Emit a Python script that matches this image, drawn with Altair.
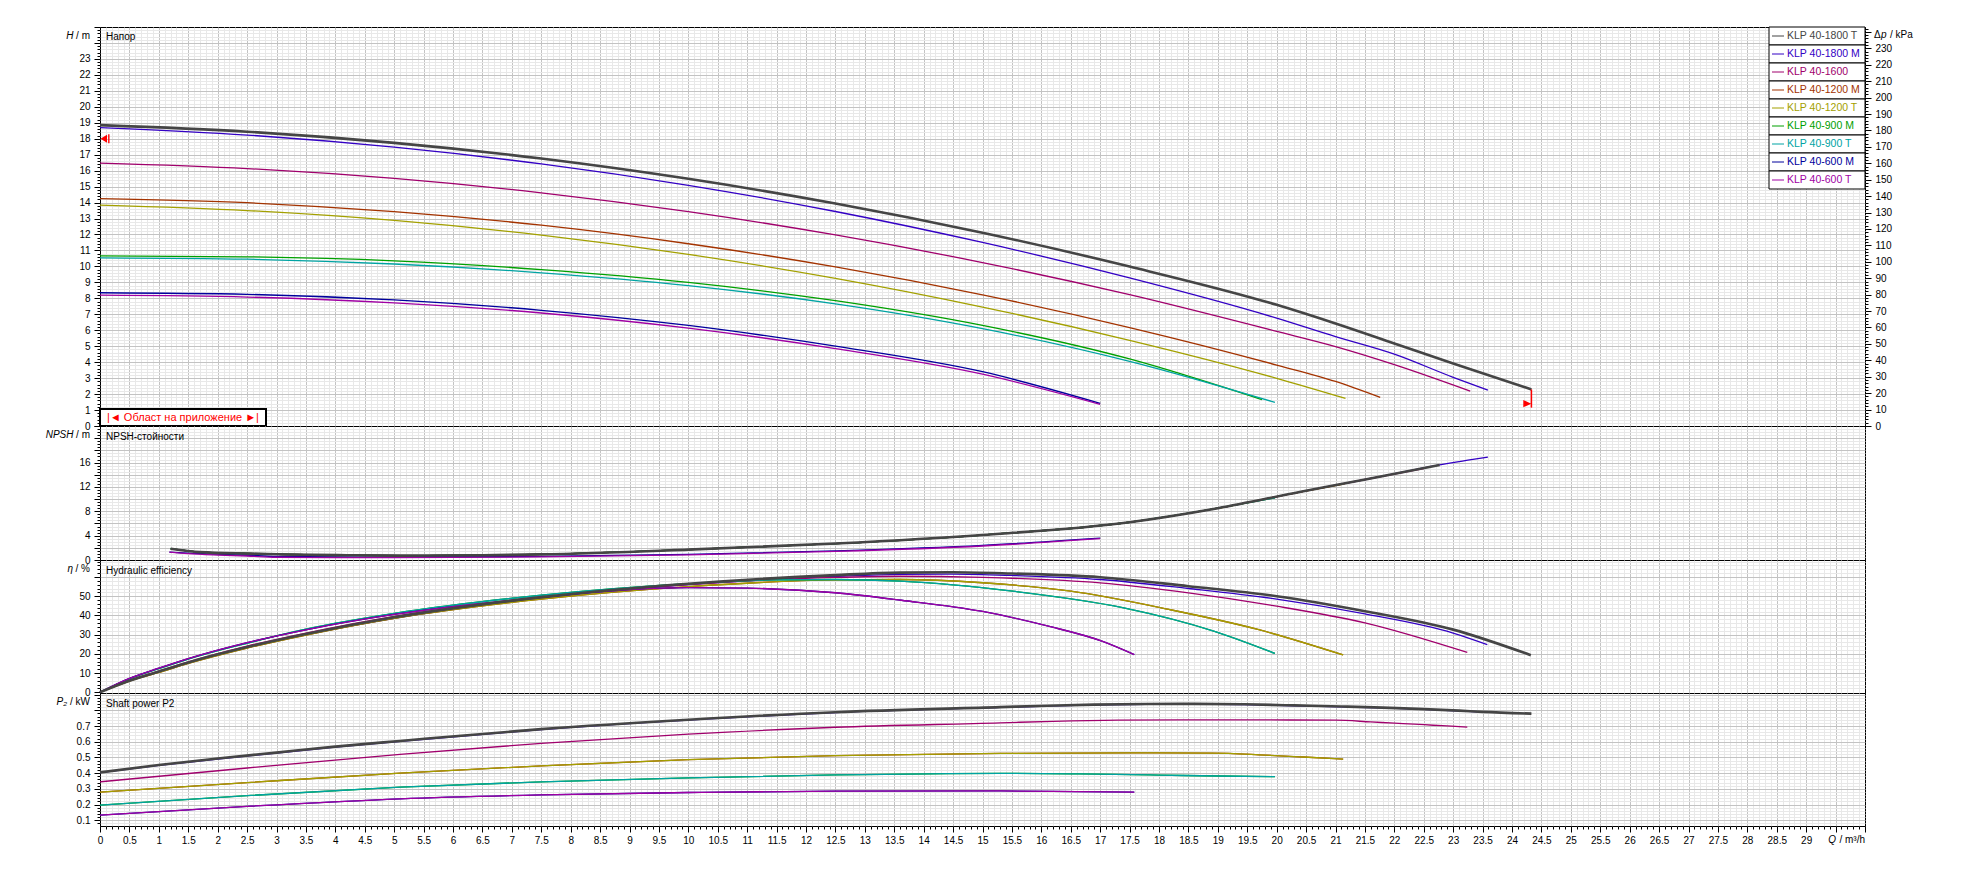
import altair as alt
import pandas as pd

FONT = "Liberation Sans"
MAJ = "#c3c3c3"
MIN = "#e8e8e8"

PUMPS = ["KLP 40-1800 T", "KLP 40-1800 M", "KLP 40-1600", "KLP 40-1200 M", "KLP 40-1200 T",
         "KLP 40-900 M", "KLP 40-900 T", "KLP 40-600 M", "KLP 40-600 T"]
COLORS = ["#454545", "#3300c4", "#a0006c", "#a33300", "#a3a000", "#00a000", "#00a3a3", "#00009c", "#a000a3"]

# ---------------- Head H / m ----------------
Q_H_1800T = [0, 2.5, 5, 7.5, 10, 12.5, 15, 17.5, 20, 21, 22, 23, 24.33]
H_1800T = [18.85, 18.44, 17.74, 16.76, 15.49, 13.94, 12.11, 9.99, 7.59, 6.42, 5.17, 3.92, 2.29]
Q_H_1800M = [0, 2.5, 5, 7.5, 10, 12.5, 15, 17.5, 20, 21, 22, 23, 23.59]
H_1800M = [18.70, 18.23, 17.47, 16.42, 15.08, 13.44, 11.50, 9.28, 6.76, 5.6, 4.5, 3.05, 2.25]
Q_H_1600 = [0, 2.5, 5, 7.5, 10, 12.5, 15, 17.5, 20, 21, 22, 23.29]
H_1600 = [16.47, 16.13, 15.51, 14.61, 13.43, 11.97, 10.24, 8.23, 5.93, 4.98, 3.85, 2.19]
Q_H_1200M = [0, 2.5, 5, 7.5, 10, 12.5, 15, 17.5, 20, 21, 21.76]
H_1200M = [14.25, 13.99, 13.43, 12.58, 11.42, 9.97, 8.22, 6.17, 3.82, 2.79, 1.79]
Q_H_1200T = [0, 2.5, 5, 7.5, 10, 12.5, 15, 17.5, 20, 21.17]
H_1200T = [13.84, 13.50, 12.88, 11.96, 10.75, 9.25, 7.45, 5.37, 2.99, 1.73]
Q_H_900M = [0, 2.5, 5, 7.5, 10, 12.5, 15, 17.5, 19.75]
H_900M = [10.66, 10.6, 10.35, 9.8, 9.0, 7.85, 6.3, 4.2, 1.65]
Q_H_900T = [0, 2.5, 5, 7.5, 10, 12.5, 15, 17.5, 19.97]
H_900T = [10.54, 10.45, 10.15, 9.6, 8.8, 7.65, 6.1, 4.05, 1.48]
Q_H_600M = [0, 2.5, 5, 7.5, 10, 12.5, 15, 17.0]
H_600M = [8.35, 8.25, 7.9, 7.25, 6.3, 5.0, 3.4, 1.42]
Q_H_600T = [0, 2.5, 5, 7.5, 10, 12.5, 15, 17.0]
H_600T = [8.2, 8.08, 7.72, 7.08, 6.13, 4.85, 3.25, 1.36]

# ---------------- NPSH / m ----------------
Q_N_BASE = [1.2, 1.7, 2.6, 3.2, 4.2, 5.1, 6.5, 7.5, 10, 12.5, 15, 17.5, 19]
N_BASE = [1.86, 1.3, 1.05, 0.9, 0.78, 0.72, 0.78, 0.92, 1.7, 2.7, 4.1, 6.2, 8.5]
Q_N_END_1800T = [20.41, 21.55, 22.77]
N_END_1800T = [11.2, 13.3, 15.6]
Q_N_END_1800M = [20.41, 21.55, 22.77, 23.25, 23.59]
N_END_1800M = [11.2, 13.3, 15.6, 16.4, 16.9]
Q_N_END_1600 = [20.41, 21.55, 22.5]
N_END_1600 = [11.2, 13.3, 15.0]
Q_N_END_1200 = [20.41, 21.15]
N_END_1200 = [11.2, 12.5]
Q_N_END_900 = [19.97]
N_END_900 = [10.2]
Q_N_600 = [1.18, 1.5, 2, 2.5, 3, 5, 7.5, 10, 12.5, 15, 17.0]
N_600T = [1.3, 1.05, 0.82, 0.66, 0.45, 0.38, 0.5, 0.85, 1.4, 2.3, 3.5]
N_600M = [1.3, 1.12, 0.95, 0.78, 0.58, 0.45, 0.58, 0.93, 1.5, 2.4, 3.6]

# ---------------- Hydraulic efficiency / % ----------------
Q_E_1800T = [0, 0.5, 1, 1.5, 2.5, 3.5, 5, 7.5, 10, 12.5, 13.6, 14.5, 15.5, 17, 18.5, 20, 21.5, 23, 24.32]
E_1800T = [0, 6, 10.8, 15.5, 23.5, 30.3, 39, 49.5, 56.5, 61, 62.3, 62.5, 61.8, 59.9, 55.2, 50.0, 42.2, 32.6, 19.3]
Q_E_1800M = [0, 0.5, 1, 1.5, 2.5, 3.5, 5, 7.5, 10, 12.5, 13.6, 14.5, 15.5, 17, 18.5, 20, 21.5, 23, 23.58]
E_1800M = [0, 6, 10.6, 15.3, 23.2, 30, 38.5, 49, 56, 60.3, 61.4, 61.5, 60.8, 58.7, 54, 48.5, 40.8, 30.8, 24.8]
Q_E_1600 = [0, 0.5, 1, 1.5, 2.5, 3.5, 5, 7.5, 10, 12.5, 13.6, 15, 17, 18.5, 20, 21.5, 23.24]
E_1600 = [0, 6.3, 11, 15.8, 24, 30.8, 39.5, 49.5, 56, 59.8, 60.4, 59.8, 56.9, 51.7, 44.8, 36.1, 20.7]
Q_E_1200 = [0, 0.5, 1, 1.5, 2.5, 3.5, 5, 7.5, 10, 12.5, 13.6, 15, 16.5, 18.17, 19.68, 21.13]
E_1200 = [0, 5.8, 10.3, 15, 23, 29.8, 38.5, 48.5, 55, 58.5, 58.7, 57, 52.6, 43.1, 32.7, 19.4]
Q_E_900 = [0, 0.5, 1, 1.5, 2.5, 3.5, 5, 7.5, 10, 11.5, 12.5, 13.6, 15.51, 17.4, 18.93, 19.97]
E_900 = [0, 7, 12.3, 17.3, 25.5, 32.8, 41, 50.5, 56.5, 58.5, 58.7, 57.8, 52.6, 43.9, 31.8, 20.2]
Q_E_600 = [0, 0.5, 1, 1.5, 2.5, 3.5, 5, 7.5, 9, 10, 11, 12.5, 13.62, 14.98, 16.12, 17.03, 17.58]
E_600 = [0, 7.2, 12.5, 17.5, 25.8, 32.5, 40.5, 49.5, 53.5, 54.5, 54.2, 51.8, 47.9, 42.2, 34.4, 26.6, 19.6]

# ---------------- Shaft power P2 / kW ----------------
Q_P_1800T = [0, 1, 2, 3, 4, 5.1, 7.5, 10, 12.5, 15.3, 16.1, 16.9, 17.8, 18.6, 19.45, 20.3, 21.1, 21.8, 22.4, 23.1, 23.5, 24.33]
P_1800T = [0.405, 0.452, 0.493, 0.531, 0.569, 0.605, 0.68, 0.74, 0.788, 0.82, 0.829, 0.836, 0.840, 0.841, 0.838,
           0.831, 0.824, 0.817, 0.809, 0.798, 0.790, 0.779]
Q_P_1800M = [0, 1, 2, 3, 4, 5.1, 7.5, 10, 12.5, 15.3, 16.1, 16.9, 17.8, 18.6, 19.45, 20.3, 21.1, 21.8, 22.4, 23.1, 23.58]
P_1800M = [0.403, 0.449, 0.49, 0.528, 0.566, 0.602, 0.677, 0.737, 0.786, 0.818, 0.827, 0.834, 0.838, 0.839, 0.836,
           0.829, 0.822, 0.815, 0.807, 0.796, 0.788]
Q_P_1600 = [0, 2.5, 5.1, 7.5, 10, 12.5, 15.3, 16.2, 17.3, 19, 21.0, 21.6, 22.0, 22.34, 22.66, 22.97, 23.24]
P_1600 = [0.345, 0.433, 0.52, 0.59, 0.648, 0.692, 0.72, 0.73, 0.737, 0.739, 0.737, 0.726, 0.718, 0.712, 0.705, 0.699, 0.693]
Q_P_1200 = [0, 2.5, 5.1, 7.5, 10, 12.5, 15.3, 17.5, 18.9, 19.7, 20.45, 21.13]
P_1200 = [0.28, 0.34, 0.40, 0.447, 0.486, 0.512, 0.526, 0.529, 0.527, 0.517, 0.503, 0.489]
Q_P_900 = [0, 2.5, 5.1, 7.5, 10, 12.5, 15.3, 16.65, 18.0, 19.0, 19.97]
P_900 = [0.197, 0.257, 0.311, 0.345, 0.37, 0.389, 0.399, 0.395, 0.388, 0.382, 0.378]
Q_P_600 = [0, 2.5, 5.1, 7.5, 10, 12.5, 15.3, 16.6, 17.58]
P_600 = [0.133, 0.189, 0.237, 0.262, 0.277, 0.286, 0.287, 0.283, 0.279]

# ---------------- operating range markers ----------------
OP_MIN_H = [18.0]
OP_END_Q = [24.33]
OP_END_H = [2.29]
OP_END_LOW = [1.15]
OP_TRI_Q = [24.26]
OP_TRI_H = [1.4]

# ---------------- layout ----------------
W = 1765
H1, H2, H3, H4 = 399, 134, 133, 133
COLOR = dict(zip(PUMPS, COLORS))
DRAW_ORDER = PUMPS[1:] + PUMPS[:1]


def long_df(series):
    rows = []
    for name, qs, vs in series:
        for q, v in zip(qs, vs):
            rows.append({"pump": name, "Q": q, "V": v})
    return pd.DataFrame(rows)


def cond(test, a, b):
    return {"condition": {"test": test, "value": a}, "value": b}


X_VALS = [round(i * 0.1, 1) for i in range(301)]
X_MAJOR = "abs(datum.value * 2 - round(datum.value * 2)) < 0.001"
X_EDGE = "datum.value < 0.05 || datum.value > 29.95"


def x_axis(bottom):
    kw = dict(values=X_VALS, title=None, domain=False, grid=True,
              gridColor=cond(X_MAJOR, MAJ, MIN), gridOpacity=cond(X_EDGE, 0, 1), gridWidth=1,
              labelFlush=False, labelOverlap=False)
    if bottom:
        kw.update(ticks=True, tickColor="black", tickWidth=1, tickSize=cond(X_MAJOR, 6, 3),
                  labels=True,
                  labelExpr="(" + X_MAJOR + ") && datum.value < 29.4 ? format(datum.value, '.1~f') : ''",
                  labelFont=FONT, labelFontSize=10, labelColor="black", labelPadding=3)
    else:
        kw.update(ticks=False, labels=False)
    return alt.Axis(**kw)


def y_axis(vals, major, label_expr, edge):
    return alt.Axis(values=vals, orient="left", title=None, domain=False, grid=True,
                    gridColor=cond(major, MAJ, MIN), gridOpacity=cond(edge, 0, 1), gridWidth=1,
                    ticks=True, tickColor="black", tickWidth=1, tickSize=cond(major, 6, 3),
                    labelExpr=label_expr, labelFont=FONT, labelFontSize=10, labelColor="black",
                    labelPadding=4, labelOverlap=False, labelFlush=False)


def curves(df, xs, xa, ys, ya):
    out = []
    names = set(df["pump"])
    for name in DRAW_ORDER:
        if name not in names:
            continue
        out.append(
            alt.Chart(df).transform_filter(alt.datum.pump == name).mark_line(
                color=COLOR[name], strokeWidth=2.6 if name == PUMPS[0] else 1.3, interpolate="monotone"
            ).encode(x=alt.X("Q:Q", scale=xs, axis=xa), y=alt.Y("V:Q", scale=ys, axis=ya))
        )
    return out


def txt(s, x, y, align="left", color="black", size=10, style="normal"):
    return alt.Chart(pd.DataFrame({"t": [s]})).mark_text(
        align=align, baseline="middle", font=FONT, fontSize=size, color=color, fontStyle=style
    ).encode(x=alt.value(x), y=alt.value(y), text="t:N")


def axis_title(symbol, unit, y, gap):
    # italic quantity symbol followed by an upright " / unit", right-aligned next to the axis
    return [txt(unit, -10, y, align="right"), txt(symbol, -10 - gap, y, align="right", style="italic")]


xs = alt.Scale(domain=[0, 30], nice=False, zero=False)
xa_top = x_axis(False)
xa_bot = x_axis(True)

# ---------- panel 1: head ----------
df_H = long_df([
    (PUMPS[0], Q_H_1800T, H_1800T), (PUMPS[1], Q_H_1800M, H_1800M), (PUMPS[2], Q_H_1600, H_1600),
    (PUMPS[3], Q_H_1200M, H_1200M), (PUMPS[4], Q_H_1200T, H_1200T), (PUMPS[5], Q_H_900M, H_900M),
    (PUMPS[6], Q_H_900T, H_900T), (PUMPS[7], Q_H_600M, H_600M), (PUMPS[8], Q_H_600T, H_600T),
])
ys_H = alt.Scale(domain=[0, 25], nice=False, zero=False)
ya_H = y_axis([round(i * 0.2, 1) for i in range(126)],
              "abs(datum.value - round(datum.value)) < 0.001",
              "abs(datum.value - round(datum.value)) < 0.001 && datum.value <= 23.01 ? format(datum.value, 'd') : ''",
              "datum.value < 0.01 || datum.value > 24.99")

mark_left = alt.Chart(pd.DataFrame({"V": OP_MIN_H})).mark_point(
    shape="M-1,0L0.45,-0.9L0.45,0.9Z M0.7,-1L1,-1L1,1L0.7,1Z", filled=True, color="red", size=81, opacity=1,
    strokeWidth=0
).encode(x=alt.value(5), y=alt.Y("V:Q", scale=ys_H, axis=ya_H))
mark_end_rule = alt.Chart(pd.DataFrame({"Q": OP_END_Q, "V": OP_END_H, "V2": OP_END_LOW})).mark_rule(
    color="red", strokeWidth=1.5
).encode(x=alt.X("Q:Q", scale=xs, axis=xa_top), y=alt.Y("V:Q", scale=ys_H, axis=ya_H), y2="V2:Q")
mark_end_tri = alt.Chart(pd.DataFrame({"Q": OP_TRI_Q, "V": OP_TRI_H})).mark_point(
    shape="M1,0L-1,-0.9L-1,0.9Z", filled=True, color="red", size=64, opacity=1, strokeWidth=0
).encode(x=alt.X("Q:Q", scale=xs, axis=xa_top), y=alt.Y("V:Q", scale=ys_H, axis=ya_H))

area_box = alt.Chart(pd.DataFrame({"a": [0]})).mark_rect(fill="white", stroke="black", strokeWidth=2).encode(
    x=alt.value(0), x2=alt.value(166), y=alt.value(382), y2=alt.value(399))
area_txt = txt("|\u25c4 Област на приложение \u25ba|", 83, 391, align="center", color="red", size=11)

left_pad = alt.Chart(pd.DataFrame({"a": [0]})).mark_rule(color="white", strokeWidth=1).encode(
    x=alt.value(-90.5), y=alt.value(0), y2=alt.value(2))

h_inner = alt.layer(
    *curves(df_H, xs, xa_top, ys_H, ya_H),
    mark_left, mark_end_rule, mark_end_tri, area_box, area_txt,
    txt("Напор", 6, 10), *axis_title("H", "/ m", 9, 16.5),
    txt("\u0394", W + 9, 8), txt("p", W + 16, 8, style="italic"), txt("/ kPa", W + 25, 8),
    left_pad,
)

dp_axis = alt.Axis(values=list(range(0, 243, 2)), orient="right", title=None, domain=False, grid=False,
                   ticks=True, tickColor="black", tickWidth=1,
                   tickSize=cond("datum.value % 10 == 0", 6, 3),
                   labelExpr="datum.value % 10 == 0 && datum.value <= 230 ? format(datum.value, 'd') : ''",
                   labelFont=FONT, labelFontSize=10, labelColor="black", labelPadding=4,
                   labelOverlap=False, labelFlush=False)
dp_layer = alt.Chart(pd.DataFrame({"dp": [0, 243]})).mark_point(opacity=0).encode(
    y=alt.Y("dp:Q", scale=alt.Scale(domain=[0, 243], nice=False, zero=False), axis=dp_axis))

leg_df = pd.DataFrame({"pump": PUMPS})
leg_y = alt.Y("pump:N", scale=alt.Scale(type="band", domain=PUMPS, range=[0, 162], paddingInner=0, paddingOuter=0),
              axis=None)
leg_color = alt.Color("pump:N", scale=alt.Scale(domain=PUMPS, range=COLORS), legend=None)
legend = alt.layer(
    alt.Chart(leg_df).mark_rect(fill="white", stroke="black", strokeWidth=1).encode(
        x=alt.value(1669), x2=alt.value(W), y=leg_y),
    alt.Chart(leg_df).mark_rule(strokeWidth=1).encode(
        x=alt.value(1672), x2=alt.value(1684), y=leg_y, color=leg_color),
    alt.Chart(leg_df).mark_text(align="left", baseline="middle", font=FONT, fontSize=10.5).encode(
        x=alt.value(1687), y=leg_y, text="pump:N", color=leg_color),
)

h_panel = alt.layer(h_inner, dp_layer, legend).resolve_scale(y="independent").properties(width=W, height=H1)

# ---------- panel 2: NPSH ----------
df_N = long_df([
    (PUMPS[0], Q_N_BASE + Q_N_END_1800T, N_BASE + N_END_1800T),
    (PUMPS[1], Q_N_BASE + Q_N_END_1800M, N_BASE + N_END_1800M),
    (PUMPS[2], Q_N_BASE + Q_N_END_1600, N_BASE + N_END_1600),
    (PUMPS[3], Q_N_BASE + Q_N_END_1200, N_BASE + N_END_1200),
    (PUMPS[4], Q_N_BASE + Q_N_END_1200, N_BASE + N_END_1200),
    (PUMPS[5], Q_N_BASE + Q_N_END_900, N_BASE + N_END_900),
    (PUMPS[6], Q_N_BASE + Q_N_END_900, N_BASE + N_END_900),
    (PUMPS[7], Q_N_600, N_600M),
    (PUMPS[8], Q_N_600, N_600T),
])
ys_N = alt.Scale(domain=[0, 22], nice=False, zero=False)
ya_N = y_axis([i * 0.5 for i in range(45)],
              "abs(datum.value / 2 - round(datum.value / 2)) < 0.001",
              "abs(datum.value / 4 - round(datum.value / 4)) < 0.001 && datum.value <= 16.01 ? format(datum.value, 'd') : ''",
              "datum.value < 0.01 || datum.value > 21.99")
n_panel = alt.layer(
    *curves(df_N, xs, xa_top, ys_N, ya_N),
    txt("NPSH-стойности", 6, 11), *axis_title("NPSH", "/ m", 9, 16.5),
).properties(width=W, height=H2)

# ---------- panel 3: efficiency ----------
df_E = long_df([
    (PUMPS[0], Q_E_1800T, E_1800T), (PUMPS[1], Q_E_1800M, E_1800M), (PUMPS[2], Q_E_1600, E_1600),
    (PUMPS[3], Q_E_1200, E_1200), (PUMPS[4], Q_E_1200, E_1200), (PUMPS[5], Q_E_900, E_900),
    (PUMPS[6], Q_E_900, E_900), (PUMPS[7], Q_E_600, E_600), (PUMPS[8], Q_E_600, E_600),
])
ys_E = alt.Scale(domain=[-0.4, 68.85], nice=False, zero=False)
ya_E = y_axis(list(range(0, 69, 2)),
              "datum.value % 10 == 0",
              "datum.value % 10 == 0 && datum.value <= 50 ? format(datum.value, 'd') : ''",
              "datum.value < 0.5")
e_panel = alt.layer(
    *curves(df_E, xs, xa_top, ys_E, ya_E),
    txt("Hydraulic efficiency", 6, 11), *axis_title("\u03b7", "/ %", 9, 17),
).properties(width=W, height=H3)

# ---------- panel 4: power ----------
df_P = long_df([
    (PUMPS[0], Q_P_1800T, P_1800T), (PUMPS[1], Q_P_1800M, P_1800M), (PUMPS[2], Q_P_1600, P_1600),
    (PUMPS[3], Q_P_1200, P_1200), (PUMPS[4], Q_P_1200, P_1200), (PUMPS[5], Q_P_900, P_900),
    (PUMPS[6], Q_P_900, P_900), (PUMPS[7], Q_P_600, P_600), (PUMPS[8], Q_P_600, P_600),
])
ys_P = alt.Scale(domain=[0.064, 0.910], nice=False, zero=False)
P_MAJOR = "abs(datum.value * 10 - round(datum.value * 10)) < 0.001"
ya_P = y_axis([round(0.08 + 0.02 * i, 2) for i in range(42)],
              P_MAJOR,
              "(" + P_MAJOR + ") && datum.value > 0.05 && datum.value < 0.75 ? format(datum.value, '.1f') : ''",
              "false")
p_panel = alt.layer(
    *curves(df_P, xs, xa_bot, ys_P, ya_P),
    txt("Shaft power P2", 6, 11), *axis_title("P\u2082", "/ kW", 9, 23),
    txt("/ m\u00b3/h", W, H4 + 14, align="right"),
    txt("Q", W - 29, H4 + 14, align="right", style="italic"),
).properties(width=W, height=H4)

chart = alt.vconcat(h_panel, n_panel, e_panel, p_panel, spacing=0, bounds="flush").resolve_scale(
    x="independent"
).properties(
    padding={"left": 0, "top": 13, "right": 8, "bottom": 8}
).configure(font=FONT).configure_view(stroke="black", strokeWidth=1)

chart.save("out.html", embed_options={"renderer": "svg", "actions": False})
